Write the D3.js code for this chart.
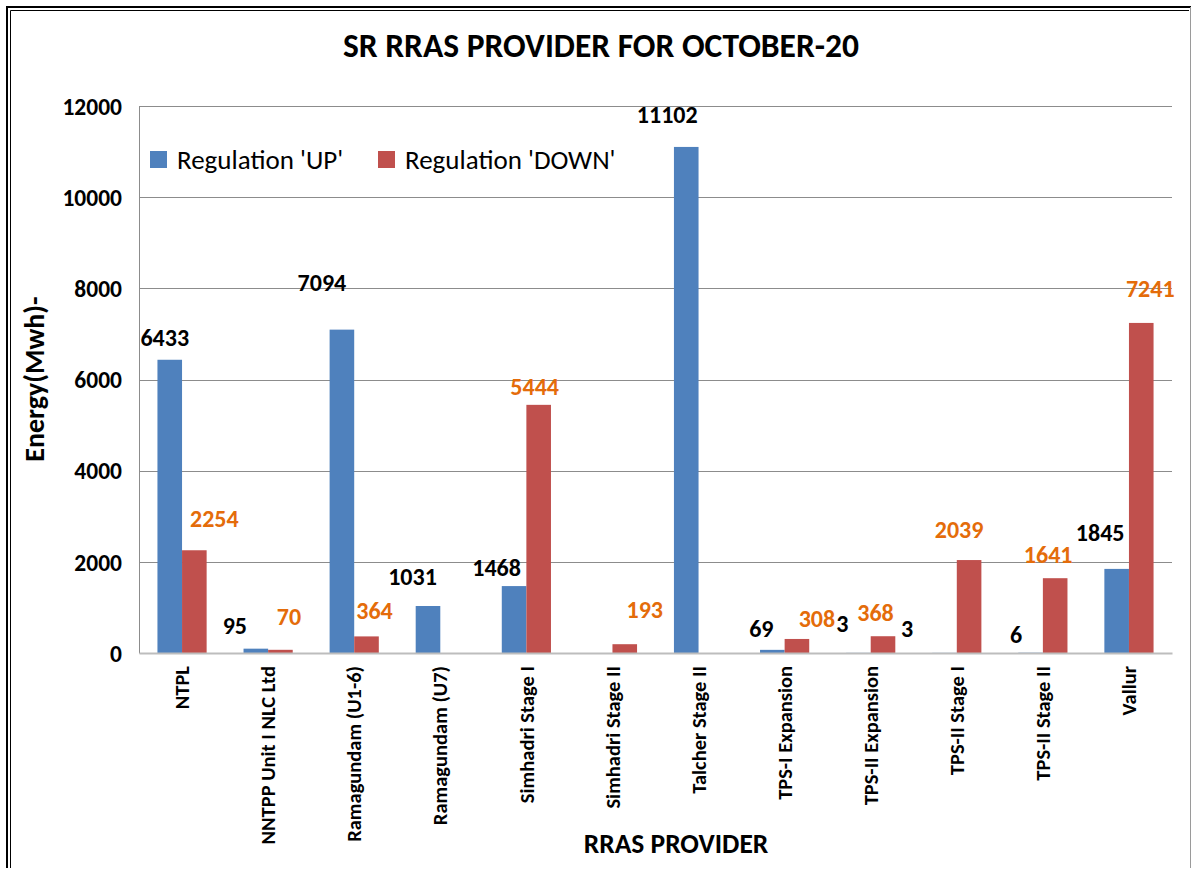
<!DOCTYPE html>
<html><head><meta charset="utf-8">
<script src="https://cdn.jsdelivr.net/npm/d3@7"></script>
<style>
html,body{margin:0;padding:0;background:#fff;}
svg{display:block;}
text{font-family:Carlito,Calibri,Lato,sans-serif;}
</style></head>
<body>
<svg id="chart" width="1192" height="869"></svg>
<script>
const categories = ["NTPL","NNTPP Unit I NLC Ltd","Ramagundam (U1-6)","Ramagundam (U7)","Simhadri  Stage I","Simhadri Stage II","Talcher Stage II","TPS-I Expansion","TPS-II Expansion","TPS-II Stage I","TPS-II Stage II","Vallur"];
const seriesNames = ["Regulation 'UP'","Regulation 'DOWN'"];
const upValues   = [6433, 95, 7094, 1031, 1468, null, 11102, 69, 3, 3, 6, 1845];
const downValues = [2254, 70, 364, null, 5444, 193, null, 308, 368, 2039, 1641, 7241];
const yTicks = [0, 2000, 4000, 6000, 8000, 10000, 12000];
const titleText = "SR RRAS PROVIDER FOR OCTOBER-20";
const xTitle = "RRAS PROVIDER";
const yTitle = "Energy(Mwh)-";

// label nudges (layout only): [dx, dy] from bar centre / bar top
const upNudge   = [[-5,-14],[-21,-15],[-20,-39],[-15.5,-21],[-17.5,-10],null,[-19,-24],[-11,-13],[-16,-21],[-37.5,-16],[-14.5,-10],[-16.5,-28]];
const downNudge = [[20,-23],[8.5,-25],[8,-17],null,[-4,-10],[20,-26],null,[20,-12],[-7.5,-15],[-10,-22],[-7,-15],[9,-26]];

const colors = {up:"#4f81bd", down:"#c0504d", upLabel:"#000000", downLabel:"#e46c0a"};

const svg = d3.select("#chart");
svg.append("rect").attr("width",1192).attr("height",869).attr("fill","#fff");

// frame
svg.append("path").attr("d","M7,868 V7 H1191").attr("fill","none").attr("stroke","#000").attr("stroke-width",2);
svg.append("path").attr("d","M10.5,868 V10.5 H1189").attr("fill","none").attr("stroke","#000").attr("stroke-width",1);
svg.append("line").attr("x1",1190.5).attr("x2",1190.5).attr("y1",7).attr("y2",868).attr("stroke","#9a9a9a").attr("stroke-width",1);

const pL = 139, pR = 1172, pT = 106, pB = 653;
const x = d3.scaleBand().domain(categories).range([pL,pR]).paddingInner(0).paddingOuter(0);
const xs = d3.scaleBand().domain(["up","down"]).range([0,x.bandwidth()]).paddingInner(0).paddingOuter(0.75);
const y = d3.scaleLinear().domain([0,12000]).range([pB,pT]);

// gridlines
svg.append("g").selectAll("line").data(yTicks.filter(t=>t>0)).join("line")
  .attr("x1",pL).attr("x2",pR).attr("y1",d=>Math.round(y(d))+0.5).attr("y2",d=>Math.round(y(d))+0.5)
  .attr("stroke","#8c8c8c").attr("stroke-width",1);

// y axis
const yAxis = d3.axisLeft(y).tickValues(yTicks).tickSize(0).tickPadding(17).tickFormat(d3.format("d"));
const gy = svg.append("g").attr("transform",`translate(${pL},0)`).call(yAxis);
gy.select(".domain").attr("stroke","#8c8c8c").attr("stroke-width",1);
gy.selectAll("text").attr("font-size",23.5).attr("font-weight","bold").attr("fill","#000").attr("dy","0.35em");

// bars
const rows = categories.map((c,i)=>({c,i,up:upValues[i],down:downValues[i]}));
const gBars = svg.append("g");
gBars.selectAll("rect.up").data(rows.filter(r=>r.up!=null)).join("rect").attr("class","up")
  .attr("x",r=>x(r.c)+xs("up")).attr("width",xs.bandwidth())
  .attr("y",r=>y(r.up)).attr("height",r=>pB-y(r.up)).attr("fill",colors.up);
gBars.selectAll("rect.down").data(rows.filter(r=>r.down!=null)).join("rect").attr("class","down")
  .attr("x",r=>x(r.c)+xs("down")).attr("width",xs.bandwidth())
  .attr("y",r=>y(r.down)).attr("height",r=>pB-y(r.down)).attr("fill",colors.down);

// x axis
const xAxis = d3.axisBottom(x).tickSize(0).tickPadding(0);
const gx = svg.append("g").attr("transform",`translate(0,${pB})`).call(xAxis);
gx.select(".domain").attr("stroke","#bdbdbd").attr("stroke-width",2);
gx.selectAll("text").attr("font-size",20.5).attr("font-weight","bold").attr("fill","#000")
  .attr("text-anchor","end").attr("transform","rotate(-90)")
  .attr("x",-13).attr("y",0).attr("dy","0.35em");

// data labels
const gL = svg.append("g").attr("font-weight","bold").attr("font-size",24).attr("text-anchor","middle");
gL.selectAll("text.up").data(rows.filter(r=>r.up!=null)).join("text").attr("class","up")
  .attr("x",r=>x(r.c)+xs("up")+xs.bandwidth()/2+upNudge[r.i][0])
  .attr("y",r=>y(r.up)+upNudge[r.i][1]).attr("fill",colors.upLabel).text(r=>r.up);
gL.selectAll("text.down").data(rows.filter(r=>r.down!=null)).join("text").attr("class","down")
  .attr("x",r=>x(r.c)+xs("down")+xs.bandwidth()/2+downNudge[r.i][0])
  .attr("y",r=>y(r.down)+downNudge[r.i][1]).attr("fill",colors.downLabel).text(r=>r.down);

// title
svg.append("text").attr("x",601).attr("y",57).attr("text-anchor","middle")
  .attr("font-size",33.5).attr("font-weight","bold").attr("fill","#000").text(titleText);

// axis titles
svg.append("text").attr("x",676).attr("y",853).attr("text-anchor","middle")
  .attr("font-size",27.5).attr("font-weight","bold").attr("fill","#000").text(xTitle);
svg.append("text").attr("transform","translate(44,379) rotate(-90)").attr("text-anchor","middle")
  .attr("font-size",28).attr("font-weight","bold").attr("fill","#000").text(yTitle);

// legend
const legend = svg.append("g");
const legX = [150, 378];
seriesNames.forEach((s,i)=>{
  legend.append("rect").attr("x",legX[i]).attr("y",151).attr("width",17).attr("height",17)
    .attr("fill", i===0?colors.up:colors.down);
  legend.append("text").attr("x",legX[i]+27).attr("y",169).attr("font-size",27).attr("fill","#000").text(s);
});
</script>
</body></html>
